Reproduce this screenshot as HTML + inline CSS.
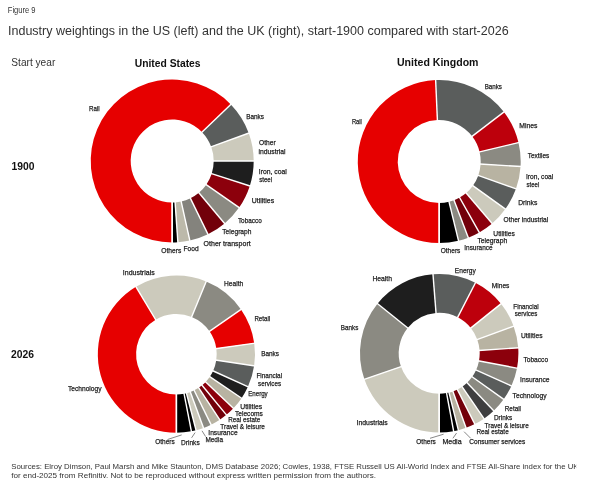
<!DOCTYPE html>
<html><head><meta charset="utf-8"><style>
html,body{margin:0;padding:0;background:#fff;}
body{width:601px;height:487px;overflow:hidden;}
svg{display:block;font-family:"Liberation Sans",sans-serif;will-change:transform;}
</style></head><body>
<svg width="601" height="487" viewBox="0 0 601 487">
<path d="M172.20,242.50A81.5,81.5 0 1 1 230.83,104.39L202.05,132.17A41.5,41.5 0 1 0 172.20,202.50Z" fill="#E60000"/>
<path d="M230.83,104.39A81.5,81.5 0 0 1 248.78,133.13L211.20,146.81A41.5,41.5 0 0 0 202.05,132.17Z" fill="#5A5D5C"/>
<path d="M248.78,133.13A81.5,81.5 0 0 1 253.70,161.00L213.70,161.00A41.5,41.5 0 0 0 211.20,146.81Z" fill="#CCCABC"/>
<path d="M253.70,161.00A81.5,81.5 0 0 1 249.80,185.91L211.71,173.69A41.5,41.5 0 0 0 213.70,161.00Z" fill="#1E1E1E"/>
<path d="M249.80,185.91A81.5,81.5 0 0 1 239.12,207.51L206.28,184.68A41.5,41.5 0 0 0 211.71,173.69Z" fill="#8C000C"/>
<path d="M239.12,207.51A81.5,81.5 0 0 1 224.59,223.43L198.88,192.79A41.5,41.5 0 0 0 206.28,184.68Z" fill="#8B8A82"/>
<path d="M224.59,223.43A81.5,81.5 0 0 1 207.93,234.25L190.39,198.30A41.5,41.5 0 0 0 198.88,192.79Z" fill="#72000A"/>
<path d="M207.93,234.25A81.5,81.5 0 0 1 189.84,240.57L181.18,201.52A41.5,41.5 0 0 0 190.39,198.30Z" fill="#84837D"/>
<path d="M189.84,240.57A81.5,81.5 0 0 1 177.89,242.30L175.09,202.40A41.5,41.5 0 0 0 181.18,201.52Z" fill="#BCB9AA"/>
<path d="M177.89,242.30A81.5,81.5 0 0 1 172.20,242.50L172.20,202.50A41.5,41.5 0 0 0 175.09,202.40Z" fill="#000000"/>
<line x1="172.20" y1="201.50" x2="172.20" y2="243.50" stroke="#fff" stroke-width="1.4"/>
<line x1="201.33" y1="132.87" x2="231.55" y2="103.69" stroke="#fff" stroke-width="1.4"/>
<line x1="210.26" y1="147.15" x2="249.72" y2="132.78" stroke="#fff" stroke-width="1.4"/>
<line x1="212.70" y1="161.00" x2="254.70" y2="161.00" stroke="#fff" stroke-width="1.4"/>
<line x1="210.76" y1="173.38" x2="250.75" y2="186.22" stroke="#fff" stroke-width="1.4"/>
<line x1="205.46" y1="184.11" x2="239.94" y2="208.08" stroke="#fff" stroke-width="1.4"/>
<line x1="198.23" y1="192.02" x2="225.23" y2="224.20" stroke="#fff" stroke-width="1.4"/>
<line x1="189.95" y1="197.40" x2="208.37" y2="235.15" stroke="#fff" stroke-width="1.4"/>
<line x1="180.97" y1="200.54" x2="190.06" y2="241.54" stroke="#fff" stroke-width="1.4"/>
<line x1="175.03" y1="201.40" x2="177.95" y2="243.30" stroke="#fff" stroke-width="1.4"/>
<line x1="172.20" y1="201.50" x2="172.20" y2="243.50" stroke="#fff" stroke-width="1.4"/>
<path d="M439.20,243.00A81.5,81.5 0 0 1 435.65,80.08L437.39,120.04A41.5,41.5 0 0 0 439.20,203.00Z" fill="#E60000"/>
<path d="M435.65,80.08A81.5,81.5 0 0 1 503.94,112.00L472.17,136.29A41.5,41.5 0 0 0 437.39,120.04Z" fill="#5A5D5C"/>
<path d="M503.94,112.00A81.5,81.5 0 0 1 518.48,142.61L479.57,151.88A41.5,41.5 0 0 0 472.17,136.29Z" fill="#BD000C"/>
<path d="M518.48,142.61A81.5,81.5 0 0 1 520.55,166.48L480.62,164.03A41.5,41.5 0 0 0 479.57,151.88Z" fill="#8B8A82"/>
<path d="M520.55,166.48A81.5,81.5 0 0 1 515.98,188.84L478.30,175.42A41.5,41.5 0 0 0 480.62,164.03Z" fill="#B8B3A2"/>
<path d="M515.98,188.84A81.5,81.5 0 0 1 505.38,209.06L472.90,185.72A41.5,41.5 0 0 0 478.30,175.42Z" fill="#5A5D5C"/>
<path d="M505.38,209.06A81.5,81.5 0 0 1 492.13,223.47L466.15,193.06A41.5,41.5 0 0 0 472.90,185.72Z" fill="#CCCABC"/>
<path d="M492.13,223.47A81.5,81.5 0 0 1 479.33,232.43L459.64,197.62A41.5,41.5 0 0 0 466.15,193.06Z" fill="#8C000C"/>
<path d="M479.33,232.43A81.5,81.5 0 0 1 468.27,237.64L454.00,200.27A41.5,41.5 0 0 0 459.64,197.62Z" fill="#72000A"/>
<path d="M468.27,237.64A81.5,81.5 0 0 1 458.50,240.68L449.03,201.82A41.5,41.5 0 0 0 454.00,200.27Z" fill="#8B8A82"/>
<path d="M458.50,240.68A81.5,81.5 0 0 1 439.20,243.00L439.20,203.00A41.5,41.5 0 0 0 449.03,201.82Z" fill="#000000"/>
<line x1="439.20" y1="202.00" x2="439.20" y2="244.00" stroke="#fff" stroke-width="1.4"/>
<line x1="437.43" y1="121.04" x2="435.60" y2="79.08" stroke="#fff" stroke-width="1.4"/>
<line x1="471.37" y1="136.90" x2="504.74" y2="111.39" stroke="#fff" stroke-width="1.4"/>
<line x1="478.60" y1="152.11" x2="519.45" y2="142.38" stroke="#fff" stroke-width="1.4"/>
<line x1="479.62" y1="163.97" x2="521.55" y2="166.54" stroke="#fff" stroke-width="1.4"/>
<line x1="477.35" y1="175.09" x2="516.92" y2="189.17" stroke="#fff" stroke-width="1.4"/>
<line x1="472.09" y1="185.13" x2="506.20" y2="209.64" stroke="#fff" stroke-width="1.4"/>
<line x1="465.50" y1="192.30" x2="492.78" y2="224.23" stroke="#fff" stroke-width="1.4"/>
<line x1="459.14" y1="196.75" x2="479.82" y2="233.30" stroke="#fff" stroke-width="1.4"/>
<line x1="453.65" y1="199.34" x2="468.63" y2="238.57" stroke="#fff" stroke-width="1.4"/>
<line x1="448.79" y1="200.85" x2="458.74" y2="241.65" stroke="#fff" stroke-width="1.4"/>
<line x1="439.20" y1="202.00" x2="439.20" y2="244.00" stroke="#fff" stroke-width="1.4"/>
<path d="M176.40,432.80A78.6,78.6 0 0 1 135.92,286.83L155.64,319.66A40.3,40.3 0 0 0 176.40,394.50Z" fill="#E60000"/>
<path d="M135.92,286.83A78.6,78.6 0 0 1 206.23,281.48L191.69,316.91A40.3,40.3 0 0 0 155.64,319.66Z" fill="#CCCABC"/>
<path d="M206.23,281.48A78.6,78.6 0 0 1 241.02,309.45L209.53,331.26A40.3,40.3 0 0 0 191.69,316.91Z" fill="#8B8A82"/>
<path d="M241.02,309.45A78.6,78.6 0 0 1 254.24,343.26L216.31,348.59A40.3,40.3 0 0 0 209.53,331.26Z" fill="#E60000"/>
<path d="M254.24,343.26A78.6,78.6 0 0 1 254.14,365.82L216.26,360.16A40.3,40.3 0 0 0 216.31,348.59Z" fill="#CCCABC"/>
<path d="M254.14,365.82A78.6,78.6 0 0 1 247.92,386.79L213.07,370.91A40.3,40.3 0 0 0 216.26,360.16Z" fill="#5A5D5C"/>
<path d="M247.92,386.79A78.6,78.6 0 0 1 241.56,398.15L209.81,376.74A40.3,40.3 0 0 0 213.07,370.91Z" fill="#1E1E1E"/>
<path d="M241.56,398.15A78.6,78.6 0 0 1 233.41,408.30L205.63,381.94A40.3,40.3 0 0 0 209.81,376.74Z" fill="#B8B3A2"/>
<path d="M233.41,408.30A78.6,78.6 0 0 1 226.40,414.85L202.03,385.30A40.3,40.3 0 0 0 205.63,381.94Z" fill="#8C000C"/>
<path d="M226.40,414.85A78.6,78.6 0 0 1 219.78,419.74L198.64,387.81A40.3,40.3 0 0 0 202.03,385.30Z" fill="#72000A"/>
<path d="M219.78,419.74A78.6,78.6 0 0 1 211.10,424.72L194.19,390.36A40.3,40.3 0 0 0 198.64,387.81Z" fill="#B8B3A2"/>
<path d="M211.10,424.72A78.6,78.6 0 0 1 203.54,427.97L190.32,392.02A40.3,40.3 0 0 0 194.19,390.36Z" fill="#8B8A82"/>
<path d="M203.54,427.97A78.6,78.6 0 0 1 196.08,430.30L186.49,393.22A40.3,40.3 0 0 0 190.32,392.02Z" fill="#CCCABC"/>
<path d="M196.08,430.30A78.6,78.6 0 0 1 191.40,431.36L184.09,393.76A40.3,40.3 0 0 0 186.49,393.22Z" fill="#000000"/>
<path d="M191.40,431.36A78.6,78.6 0 0 1 176.40,432.80L176.40,394.50A40.3,40.3 0 0 0 184.09,393.76Z" fill="#000000"/>
<line x1="176.40" y1="393.50" x2="176.40" y2="433.80" stroke="#fff" stroke-width="1.4"/>
<line x1="156.16" y1="320.51" x2="135.40" y2="285.97" stroke="#fff" stroke-width="1.4"/>
<line x1="191.31" y1="317.84" x2="206.60" y2="280.55" stroke="#fff" stroke-width="1.4"/>
<line x1="208.71" y1="331.83" x2="241.84" y2="308.89" stroke="#fff" stroke-width="1.4"/>
<line x1="215.32" y1="348.73" x2="255.23" y2="343.12" stroke="#fff" stroke-width="1.4"/>
<line x1="215.27" y1="360.01" x2="255.13" y2="365.97" stroke="#fff" stroke-width="1.4"/>
<line x1="212.16" y1="370.50" x2="248.83" y2="387.21" stroke="#fff" stroke-width="1.4"/>
<line x1="208.98" y1="376.18" x2="242.39" y2="398.71" stroke="#fff" stroke-width="1.4"/>
<line x1="204.91" y1="381.25" x2="234.14" y2="408.99" stroke="#fff" stroke-width="1.4"/>
<line x1="201.40" y1="384.52" x2="227.03" y2="415.62" stroke="#fff" stroke-width="1.4"/>
<line x1="198.09" y1="386.97" x2="220.33" y2="420.58" stroke="#fff" stroke-width="1.4"/>
<line x1="193.75" y1="389.46" x2="211.54" y2="425.62" stroke="#fff" stroke-width="1.4"/>
<line x1="189.97" y1="391.08" x2="203.89" y2="428.90" stroke="#fff" stroke-width="1.4"/>
<line x1="186.24" y1="392.25" x2="196.33" y2="431.26" stroke="#fff" stroke-width="1.4"/>
<line x1="183.90" y1="392.78" x2="191.59" y2="432.34" stroke="#fff" stroke-width="1.4"/>
<line x1="176.40" y1="393.50" x2="176.40" y2="433.80" stroke="#fff" stroke-width="1.4"/>
<path d="M439.20,432.50A79.2,79.2 0 0 1 364.41,379.35L400.95,366.62A40.5,40.5 0 0 0 439.20,393.80Z" fill="#CCCABC"/>
<path d="M364.41,379.35A79.2,79.2 0 0 1 377.48,303.67L407.64,327.92A40.5,40.5 0 0 0 400.95,366.62Z" fill="#8B8A82"/>
<path d="M377.48,303.67A79.2,79.2 0 0 1 432.99,274.34L436.02,312.92A40.5,40.5 0 0 0 407.64,327.92Z" fill="#1E1E1E"/>
<path d="M432.99,274.34A79.2,79.2 0 0 1 475.40,282.86L457.71,317.28A40.5,40.5 0 0 0 436.02,312.92Z" fill="#5A5D5C"/>
<path d="M475.40,282.86A79.2,79.2 0 0 1 501.01,303.78L470.81,327.98A40.5,40.5 0 0 0 457.71,317.28Z" fill="#BD000C"/>
<path d="M501.01,303.78A79.2,79.2 0 0 1 513.62,326.21L477.26,339.45A40.5,40.5 0 0 0 470.81,327.98Z" fill="#CCCABC"/>
<path d="M513.62,326.21A79.2,79.2 0 0 1 518.21,347.78L479.60,350.47A40.5,40.5 0 0 0 477.26,339.45Z" fill="#B8B3A2"/>
<path d="M518.21,347.78A79.2,79.2 0 0 1 517.00,368.14L478.98,360.89A40.5,40.5 0 0 0 479.60,350.47Z" fill="#8C000C"/>
<path d="M517.00,368.14A79.2,79.2 0 0 1 511.38,385.89L476.11,369.97A40.5,40.5 0 0 0 478.98,360.89Z" fill="#8B8A82"/>
<path d="M511.38,385.89A79.2,79.2 0 0 1 503.68,399.29L472.17,376.82A40.5,40.5 0 0 0 476.11,369.97Z" fill="#5A5D5C"/>
<path d="M503.68,399.29A79.2,79.2 0 0 1 493.72,410.75L467.08,382.68A40.5,40.5 0 0 0 472.17,376.82Z" fill="#8B8A82"/>
<path d="M493.72,410.75A79.2,79.2 0 0 1 483.95,418.65L462.08,386.72A40.5,40.5 0 0 0 467.08,382.68Z" fill="#3E3E3F"/>
<path d="M483.95,418.65A79.2,79.2 0 0 1 474.79,424.06L457.40,389.48A40.5,40.5 0 0 0 462.08,386.72Z" fill="#CCCABC"/>
<path d="M474.79,424.06A79.2,79.2 0 0 1 466.03,427.82L452.92,391.41A40.5,40.5 0 0 0 457.40,389.48Z" fill="#72000A"/>
<path d="M466.03,427.82A79.2,79.2 0 0 1 458.36,430.15L449.00,392.60A40.5,40.5 0 0 0 452.92,391.41Z" fill="#B8B3A2"/>
<path d="M458.36,430.15A79.2,79.2 0 0 1 453.63,431.17L446.58,393.12A40.5,40.5 0 0 0 449.00,392.60Z" fill="#000000"/>
<path d="M453.63,431.17A79.2,79.2 0 0 1 439.20,432.50L439.20,393.80A40.5,40.5 0 0 0 446.58,393.12Z" fill="#000000"/>
<line x1="439.20" y1="392.80" x2="439.20" y2="433.50" stroke="#fff" stroke-width="1.4"/>
<line x1="401.90" y1="366.29" x2="363.46" y2="379.68" stroke="#fff" stroke-width="1.4"/>
<line x1="408.42" y1="328.55" x2="376.70" y2="303.05" stroke="#fff" stroke-width="1.4"/>
<line x1="436.10" y1="313.92" x2="432.91" y2="273.35" stroke="#fff" stroke-width="1.4"/>
<line x1="457.26" y1="318.17" x2="475.86" y2="281.97" stroke="#fff" stroke-width="1.4"/>
<line x1="470.03" y1="328.60" x2="501.79" y2="303.16" stroke="#fff" stroke-width="1.4"/>
<line x1="476.32" y1="339.79" x2="514.56" y2="325.87" stroke="#fff" stroke-width="1.4"/>
<line x1="478.60" y1="350.54" x2="519.20" y2="347.71" stroke="#fff" stroke-width="1.4"/>
<line x1="478.00" y1="360.70" x2="517.98" y2="368.33" stroke="#fff" stroke-width="1.4"/>
<line x1="475.20" y1="369.55" x2="512.29" y2="386.30" stroke="#fff" stroke-width="1.4"/>
<line x1="471.36" y1="376.24" x2="504.49" y2="399.87" stroke="#fff" stroke-width="1.4"/>
<line x1="466.39" y1="381.95" x2="494.41" y2="411.48" stroke="#fff" stroke-width="1.4"/>
<line x1="461.52" y1="385.89" x2="484.51" y2="419.47" stroke="#fff" stroke-width="1.4"/>
<line x1="456.95" y1="388.59" x2="475.24" y2="424.95" stroke="#fff" stroke-width="1.4"/>
<line x1="452.58" y1="390.46" x2="466.37" y2="428.76" stroke="#fff" stroke-width="1.4"/>
<line x1="448.76" y1="391.63" x2="458.60" y2="431.12" stroke="#fff" stroke-width="1.4"/>
<line x1="446.40" y1="392.14" x2="453.82" y2="432.16" stroke="#fff" stroke-width="1.4"/>
<line x1="439.20" y1="392.80" x2="439.20" y2="433.50" stroke="#fff" stroke-width="1.4"/>
<line x1="167.5" y1="439.5" x2="181.7" y2="434.9" stroke="#555" stroke-width="0.7"/>
<line x1="191.6" y1="437.8" x2="195.1" y2="432.6" stroke="#555" stroke-width="0.7"/>
<line x1="202.0" y1="430.8" x2="205.6" y2="436.6" stroke="#555" stroke-width="0.7"/>
<line x1="430.0" y1="438.3" x2="443.6" y2="434.2" stroke="#555" stroke-width="0.7"/>
<line x1="452.9" y1="438.3" x2="456.6" y2="433.0" stroke="#555" stroke-width="0.7"/>
<line x1="464.1" y1="431.7" x2="470.7" y2="438.3" stroke="#555" stroke-width="0.7"/>
<text x="89.0" y="110.7" font-size="7.6" font-weight="normal" fill="#1a1a1a" stroke="#1a1a1a" stroke-width="0.25" textLength="10.7" lengthAdjust="spacingAndGlyphs">Rail</text>
<text x="246.2" y="118.5" font-size="7.6" font-weight="normal" fill="#1a1a1a" stroke="#1a1a1a" stroke-width="0.25" textLength="17.8" lengthAdjust="spacingAndGlyphs">Banks</text>
<text x="259.1" y="145.0" font-size="7.6" font-weight="normal" fill="#1a1a1a" stroke="#1a1a1a" stroke-width="0.25" textLength="16.6" lengthAdjust="spacingAndGlyphs">Other</text>
<text x="258.5" y="153.6" font-size="7.6" font-weight="normal" fill="#1a1a1a" stroke="#1a1a1a" stroke-width="0.25" textLength="27.1" lengthAdjust="spacingAndGlyphs">industrial</text>
<text x="258.8" y="173.9" font-size="7.6" font-weight="normal" fill="#1a1a1a" stroke="#1a1a1a" stroke-width="0.25" textLength="28.1" lengthAdjust="spacingAndGlyphs">Iron, coal</text>
<text x="259.2" y="181.9" font-size="7.6" font-weight="normal" fill="#1a1a1a" stroke="#1a1a1a" stroke-width="0.25" textLength="12.9" lengthAdjust="spacingAndGlyphs">steel</text>
<text x="251.8" y="203.4" font-size="7.6" font-weight="normal" fill="#1a1a1a" stroke="#1a1a1a" stroke-width="0.25" textLength="22.4" lengthAdjust="spacingAndGlyphs">Utilities</text>
<text x="237.9" y="223.4" font-size="7.6" font-weight="normal" fill="#1a1a1a" stroke="#1a1a1a" stroke-width="0.25" textLength="23.9" lengthAdjust="spacingAndGlyphs">Tobacco</text>
<text x="222.3" y="234.0" font-size="7.6" font-weight="normal" fill="#1a1a1a" stroke="#1a1a1a" stroke-width="0.25" textLength="29.1" lengthAdjust="spacingAndGlyphs">Telegraph</text>
<text x="203.6" y="245.8" font-size="7.6" font-weight="normal" fill="#1a1a1a" stroke="#1a1a1a" stroke-width="0.25" textLength="47.1" lengthAdjust="spacingAndGlyphs">Other transport</text>
<text x="183.6" y="251.1" font-size="7.6" font-weight="normal" fill="#1a1a1a" stroke="#1a1a1a" stroke-width="0.25" textLength="15.0" lengthAdjust="spacingAndGlyphs">Food</text>
<text x="161.3" y="252.5" font-size="7.6" font-weight="normal" fill="#1a1a1a" stroke="#1a1a1a" stroke-width="0.25" textLength="20.0" lengthAdjust="spacingAndGlyphs">Others</text>
<text x="351.9" y="123.7" font-size="7.6" font-weight="normal" fill="#1a1a1a" stroke="#1a1a1a" stroke-width="0.25" textLength="10.0" lengthAdjust="spacingAndGlyphs">Rail</text>
<text x="484.7" y="88.7" font-size="7.6" font-weight="normal" fill="#1a1a1a" stroke="#1a1a1a" stroke-width="0.25" textLength="17.3" lengthAdjust="spacingAndGlyphs">Banks</text>
<text x="519.3" y="127.6" font-size="7.6" font-weight="normal" fill="#1a1a1a" stroke="#1a1a1a" stroke-width="0.25" textLength="18.2" lengthAdjust="spacingAndGlyphs">Mines</text>
<text x="527.7" y="157.6" font-size="7.6" font-weight="normal" fill="#1a1a1a" stroke="#1a1a1a" stroke-width="0.25" textLength="21.6" lengthAdjust="spacingAndGlyphs">Textiles</text>
<text x="526.0" y="178.6" font-size="7.6" font-weight="normal" fill="#1a1a1a" stroke="#1a1a1a" stroke-width="0.25" textLength="27.3" lengthAdjust="spacingAndGlyphs">Iron, coal</text>
<text x="526.6" y="186.6" font-size="7.6" font-weight="normal" fill="#1a1a1a" stroke="#1a1a1a" stroke-width="0.25" textLength="12.7" lengthAdjust="spacingAndGlyphs">steel</text>
<text x="518.2" y="205.0" font-size="7.6" font-weight="normal" fill="#1a1a1a" stroke="#1a1a1a" stroke-width="0.25" textLength="19.2" lengthAdjust="spacingAndGlyphs">Drinks</text>
<text x="503.6" y="222.4" font-size="7.6" font-weight="normal" fill="#1a1a1a" stroke="#1a1a1a" stroke-width="0.25" textLength="44.6" lengthAdjust="spacingAndGlyphs">Other industrial</text>
<text x="493.3" y="235.8" font-size="7.6" font-weight="normal" fill="#1a1a1a" stroke="#1a1a1a" stroke-width="0.25" textLength="21.6" lengthAdjust="spacingAndGlyphs">Utilities</text>
<text x="477.4" y="242.7" font-size="7.6" font-weight="normal" fill="#1a1a1a" stroke="#1a1a1a" stroke-width="0.25" textLength="29.8" lengthAdjust="spacingAndGlyphs">Telegraph</text>
<text x="464.3" y="249.9" font-size="7.6" font-weight="normal" fill="#1a1a1a" stroke="#1a1a1a" stroke-width="0.25" textLength="28.2" lengthAdjust="spacingAndGlyphs">Insurance</text>
<text x="440.7" y="252.6" font-size="7.6" font-weight="normal" fill="#1a1a1a" stroke="#1a1a1a" stroke-width="0.25" textLength="19.7" lengthAdjust="spacingAndGlyphs">Others</text>
<text x="122.8" y="274.7" font-size="7.6" font-weight="normal" fill="#1a1a1a" stroke="#1a1a1a" stroke-width="0.25" textLength="31.9" lengthAdjust="spacingAndGlyphs">Industrials</text>
<text x="224.1" y="286.1" font-size="7.6" font-weight="normal" fill="#1a1a1a" stroke="#1a1a1a" stroke-width="0.25" textLength="19.1" lengthAdjust="spacingAndGlyphs">Health</text>
<text x="254.4" y="321.4" font-size="7.6" font-weight="normal" fill="#1a1a1a" stroke="#1a1a1a" stroke-width="0.25" textLength="15.8" lengthAdjust="spacingAndGlyphs">Retail</text>
<text x="261.2" y="356.3" font-size="7.6" font-weight="normal" fill="#1a1a1a" stroke="#1a1a1a" stroke-width="0.25" textLength="17.8" lengthAdjust="spacingAndGlyphs">Banks</text>
<text x="256.4" y="377.9" font-size="7.6" font-weight="normal" fill="#1a1a1a" stroke="#1a1a1a" stroke-width="0.25" textLength="25.7" lengthAdjust="spacingAndGlyphs">Financial</text>
<text x="258.1" y="385.8" font-size="7.6" font-weight="normal" fill="#1a1a1a" stroke="#1a1a1a" stroke-width="0.25" textLength="23.0" lengthAdjust="spacingAndGlyphs">services</text>
<text x="248.2" y="396.4" font-size="7.6" font-weight="normal" fill="#1a1a1a" stroke="#1a1a1a" stroke-width="0.25" textLength="19.5" lengthAdjust="spacingAndGlyphs">Energy</text>
<text x="240.3" y="409.0" font-size="7.6" font-weight="normal" fill="#1a1a1a" stroke="#1a1a1a" stroke-width="0.25" textLength="21.9" lengthAdjust="spacingAndGlyphs">Utilities</text>
<text x="235.0" y="416.0" font-size="7.6" font-weight="normal" fill="#1a1a1a" stroke="#1a1a1a" stroke-width="0.25" textLength="27.9" lengthAdjust="spacingAndGlyphs">Telecoms</text>
<text x="228.3" y="422.0" font-size="7.6" font-weight="normal" fill="#1a1a1a" stroke="#1a1a1a" stroke-width="0.25" textLength="31.9" lengthAdjust="spacingAndGlyphs">Real estate</text>
<text x="220.3" y="429.0" font-size="7.6" font-weight="normal" fill="#1a1a1a" stroke="#1a1a1a" stroke-width="0.25" textLength="44.6" lengthAdjust="spacingAndGlyphs">Travel &amp; leisure</text>
<text x="208.3" y="434.7" font-size="7.6" font-weight="normal" fill="#1a1a1a" stroke="#1a1a1a" stroke-width="0.25" textLength="29.3" lengthAdjust="spacingAndGlyphs">Insurance</text>
<text x="205.4" y="441.6" font-size="7.6" font-weight="normal" fill="#1a1a1a" stroke="#1a1a1a" stroke-width="0.25" textLength="17.6" lengthAdjust="spacingAndGlyphs">Media</text>
<text x="181.1" y="444.8" font-size="7.6" font-weight="normal" fill="#1a1a1a" stroke="#1a1a1a" stroke-width="0.25" textLength="18.6" lengthAdjust="spacingAndGlyphs">Drinks</text>
<text x="155.2" y="444.2" font-size="7.6" font-weight="normal" fill="#1a1a1a" stroke="#1a1a1a" stroke-width="0.25" textLength="19.5" lengthAdjust="spacingAndGlyphs">Others</text>
<text x="68.0" y="391.0" font-size="7.6" font-weight="normal" fill="#1a1a1a" stroke="#1a1a1a" stroke-width="0.25" textLength="33.5" lengthAdjust="spacingAndGlyphs">Technology</text>
<text x="372.4" y="280.6" font-size="7.6" font-weight="normal" fill="#1a1a1a" stroke="#1a1a1a" stroke-width="0.25" textLength="19.6" lengthAdjust="spacingAndGlyphs">Health</text>
<text x="454.8" y="272.6" font-size="7.6" font-weight="normal" fill="#1a1a1a" stroke="#1a1a1a" stroke-width="0.25" textLength="21.0" lengthAdjust="spacingAndGlyphs">Energy</text>
<text x="491.7" y="287.6" font-size="7.6" font-weight="normal" fill="#1a1a1a" stroke="#1a1a1a" stroke-width="0.25" textLength="17.7" lengthAdjust="spacingAndGlyphs">Mines</text>
<text x="513.3" y="308.8" font-size="7.6" font-weight="normal" fill="#1a1a1a" stroke="#1a1a1a" stroke-width="0.25" textLength="25.3" lengthAdjust="spacingAndGlyphs">Financial</text>
<text x="514.7" y="316.4" font-size="7.6" font-weight="normal" fill="#1a1a1a" stroke="#1a1a1a" stroke-width="0.25" textLength="22.7" lengthAdjust="spacingAndGlyphs">services</text>
<text x="520.9" y="338.2" font-size="7.6" font-weight="normal" fill="#1a1a1a" stroke="#1a1a1a" stroke-width="0.25" textLength="21.6" lengthAdjust="spacingAndGlyphs">Utilities</text>
<text x="523.4" y="361.5" font-size="7.6" font-weight="normal" fill="#1a1a1a" stroke="#1a1a1a" stroke-width="0.25" textLength="24.7" lengthAdjust="spacingAndGlyphs">Tobacco</text>
<text x="520.1" y="381.7" font-size="7.6" font-weight="normal" fill="#1a1a1a" stroke="#1a1a1a" stroke-width="0.25" textLength="29.5" lengthAdjust="spacingAndGlyphs">Insurance</text>
<text x="512.6" y="398.2" font-size="7.6" font-weight="normal" fill="#1a1a1a" stroke="#1a1a1a" stroke-width="0.25" textLength="34.0" lengthAdjust="spacingAndGlyphs">Technology</text>
<text x="504.8" y="410.8" font-size="7.6" font-weight="normal" fill="#1a1a1a" stroke="#1a1a1a" stroke-width="0.25" textLength="16.2" lengthAdjust="spacingAndGlyphs">Retail</text>
<text x="493.9" y="419.9" font-size="7.6" font-weight="normal" fill="#1a1a1a" stroke="#1a1a1a" stroke-width="0.25" textLength="18.3" lengthAdjust="spacingAndGlyphs">Drinks</text>
<text x="484.6" y="427.7" font-size="7.6" font-weight="normal" fill="#1a1a1a" stroke="#1a1a1a" stroke-width="0.25" textLength="44.2" lengthAdjust="spacingAndGlyphs">Travel &amp; leisure</text>
<text x="476.4" y="433.9" font-size="7.6" font-weight="normal" fill="#1a1a1a" stroke="#1a1a1a" stroke-width="0.25" textLength="32.3" lengthAdjust="spacingAndGlyphs">Real estate</text>
<text x="469.3" y="444.3" font-size="7.6" font-weight="normal" fill="#1a1a1a" stroke="#1a1a1a" stroke-width="0.25" textLength="55.9" lengthAdjust="spacingAndGlyphs">Consumer services</text>
<text x="442.4" y="444.1" font-size="7.6" font-weight="normal" fill="#1a1a1a" stroke="#1a1a1a" stroke-width="0.25" textLength="19.2" lengthAdjust="spacingAndGlyphs">Media</text>
<text x="416.3" y="443.6" font-size="7.6" font-weight="normal" fill="#1a1a1a" stroke="#1a1a1a" stroke-width="0.25" textLength="19.5" lengthAdjust="spacingAndGlyphs">Others</text>
<text x="340.8" y="330.4" font-size="7.6" font-weight="normal" fill="#1a1a1a" stroke="#1a1a1a" stroke-width="0.25" textLength="17.5" lengthAdjust="spacingAndGlyphs">Banks</text>
<text x="356.6" y="425.0" font-size="7.6" font-weight="normal" fill="#1a1a1a" stroke="#1a1a1a" stroke-width="0.25" textLength="31.2" lengthAdjust="spacingAndGlyphs">Industrials</text>
<clipPath id="fc"><rect x="0" y="0" width="576.2" height="487"/></clipPath>
<g clip-path="url(#fc)">
<text x="7.8" y="12.8" font-size="8.4" font-weight="normal" fill="#333" textLength="27.7" lengthAdjust="spacingAndGlyphs">Figure 9</text>
<text x="8.0" y="34.6" font-size="12.3" font-weight="normal" fill="#333" textLength="500.6" lengthAdjust="spacingAndGlyphs">Industry weightings in the US (left) and the UK (right), start-1900 compared with start-2026</text>
<text x="11.3" y="66.4" font-size="10.8" font-weight="normal" fill="#333" textLength="44.0" lengthAdjust="spacingAndGlyphs">Start year</text>
<text x="134.7" y="66.5" font-size="10.0" font-weight="bold" fill="#111" textLength="65.9" lengthAdjust="spacingAndGlyphs">United States</text>
<text x="397.0" y="66.2" font-size="10.0" font-weight="bold" fill="#111" textLength="81.5" lengthAdjust="spacingAndGlyphs">United Kingdom</text>
<text x="11.5" y="170.0" font-size="10.0" font-weight="bold" fill="#111" textLength="23.0" lengthAdjust="spacingAndGlyphs">1900</text>
<text x="11.0" y="358.2" font-size="10.0" font-weight="bold" fill="#111" textLength="23.0" lengthAdjust="spacingAndGlyphs">2026</text>
<text x="11.2" y="468.7" font-size="7.4" font-weight="normal" fill="#333" textLength="567.3" lengthAdjust="spacingAndGlyphs">Sources: Elroy Dimson, Paul Marsh and Mike Staunton, DMS Database 2026; Cowles, 1938, FTSE Russell US All-World Index and FTSE All-Share index for the UK</text>
<text x="11.2" y="477.5" font-size="7.4" font-weight="normal" fill="#333" textLength="364.8" lengthAdjust="spacingAndGlyphs">for end-2025 from Refinitiv. Not to be reproduced without express written permission from the authors.</text>
</g>
</svg>
</body></html>
